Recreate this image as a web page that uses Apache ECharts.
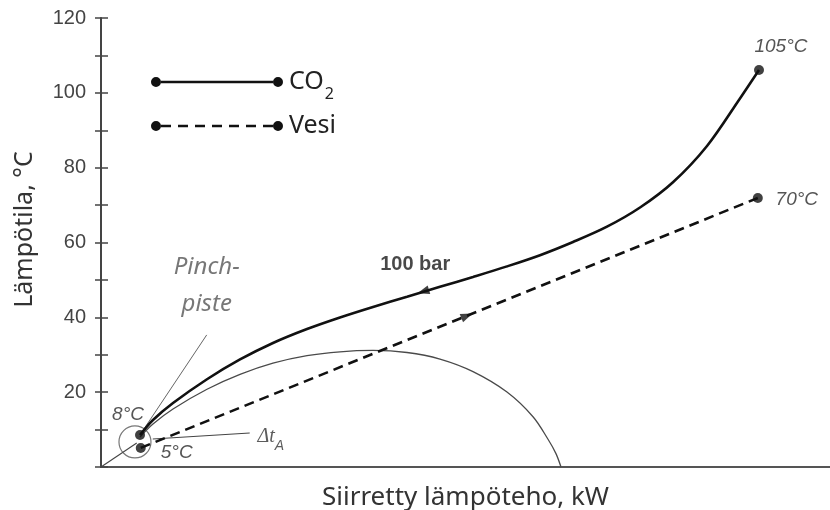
<!DOCTYPE html>
<html>
<head>
<meta charset="utf-8">
<script src="https://cdn.jsdelivr.net/npm/echarts@6/dist/echarts.min.js"></script>
<style>html,body{margin:0;padding:0;background:#fff}#c{width:830px;height:510px}</style>
</head>
<body>
<div id="c"></div>
<script>
// ---- data ----
const co2X = [5.35, 7.13, 9.88, 14.54, 19.07, 23.59, 28.26, 32.78, 37.31, 41.98, 46.5, 51.03, 55.69, 60.22, 64.75, 69.41, 73.94, 78.46, 83.13, 87.65, 90.26];
const co2T = [8.55, 12.55, 17.09, 23.45, 28.74, 33.15, 36.88, 39.97, 42.78, 45.51, 48.16, 50.8, 53.62, 56.61, 60.14, 64.23, 69.35, 76.1, 85.8, 98.5, 106.1];
const vesiX = [5.45, 90.1];
const vesiT = [5.1, 71.9];
const arcX = [5.35, 7.13, 9.88, 14.54, 19.07, 23.59, 28.26, 32.78, 37.31, 41.98, 46.5, 51.03, 55.69, 59.26, 61.32, 62.41, 63.1];
const arcT = [8.02, 11.49, 15.5, 20.77, 24.74, 27.74, 29.74, 30.79, 31.15, 30.6, 28.84, 25.49, 20.03, 13.43, 7.42, 3.58, 0];
const originLine = [[0, 0], [4.9, 6.4]];
const pinchLine = [[5.8, 9.9], [14.5, 35.3]];
const dtLine = [[7.1, 7.5], [20.4, 9.1]];
const pinchCircle = [4.66, 6.7];
const co2Arrow = [44.2, 46.9];
const vesiArrow = [50.2, 40.4];
const endLabels = ['8°C', '105°C', '5°C', '70°C'];
const seriesNames = ['CO₂', 'Vesi'];
const pinchText = 'Pinch-\npiste';
const pressureText = '100 bar';
const yTicks = [0, 20, 40, 60, 80, 100, 120];

const zip = (xs, ys) => xs.map((x, i) => [x, ys[i]]);
const co2Data = zip(co2X, co2T);
const vesiData = zip(vesiX, vesiT);
const arcData = zip(arcX, arcT);

const ital = {fontFamily: 'Liberation Sans', fontStyle: 'italic', fontSize: 19, color: '#2a2a2a'};
function endPoint(pt, text, off) {
  return {value: pt, label: Object.assign({show: true, position: 'inside', offset: off, formatter: text}, ital)};
}

const co2Icon = 'path://M0,5a5,5 0 1,0 10,0a5,5 0 1,0 -10,0Z M122,5a5,5 0 1,0 10,0a5,5 0 1,0 -10,0Z M10,3.8L122,3.8L122,6.2L10,6.2Z';
let dashes = '';
for (let s = 10; s < 122; s += 17) { const e = Math.min(s + 10, 122); dashes += ' M' + s + ',3.8L' + e + ',3.8L' + e + ',6.2L' + s + ',6.2Z'; }
const vesiIcon = 'path://M0,5a5,5 0 1,0 10,0a5,5 0 1,0 -10,0Z M122,5a5,5 0 1,0 10,0a5,5 0 1,0 -10,0Z' + dashes;

const chart = echarts.init(document.getElementById('c'), null, {renderer: 'canvas'});
chart.setOption({
  animation: false,
  backgroundColor: '#fff',
  grid: {left: 101, right: 0, top: 18, bottom: 43, containLabel: false, outerBoundsMode: 'none'},
  legend: {
    orient: 'vertical', left: 146, top: 63, itemGap: 10,
    itemWidth: 132, itemHeight: 10, selectedMode: false,
    itemStyle: {color: '#111', borderWidth: 0},
    data: [{name: seriesNames[0], icon: co2Icon}, {name: seriesNames[1], icon: vesiIcon}],
    formatter: n => n === seriesNames[0] ? '{m|CO}{s|2}' : '{m|' + n + '}',
    textStyle: {
      padding: [0, 0, 0, 1], lineHeight: 28,
      rich: {
        m: {fontFamily: 'Noto Sans', fontSize: 25, color: '#222', lineHeight: 28},
        s: {fontFamily: 'Noto Sans', fontSize: 16, color: '#222', verticalAlign: 'bottom', lineHeight: 28, padding: [0, 0, -6, 1]}
      }
    }
  },
  xAxis: [{
    type: 'value', min: 0, max: 100, position: 'bottom',
    name: 'Siirretty lämpöteho, kW', nameLocation: 'middle', nameGap: 18,
    nameTextStyle: {fontFamily: 'Noto Sans', fontSize: 26, color: '#333'},
    axisLine: {show: true, lineStyle: {color: '#444', width: 2}},
    axisTick: {show: false}, axisLabel: {show: false}, splitLine: {show: false}
  }, {
    type: 'value', min: 0, max: 100, position: 'top',
    axisLine: {show: true, lineStyle: {color: '#555', width: 2}},
    axisTick: {show: false}, axisLabel: {show: false}, splitLine: {show: false}
  }],
  yAxis: [{
    type: 'value', min: 0, max: 120, interval: 10, position: 'left',
    name: 'Lämpötila, °C', nameLocation: 'middle', nameGap: 64,
    nameTextStyle: {fontFamily: 'Noto Sans', fontSize: 25, color: '#333', padding: [0, 0, 0, 26]},
    axisLine: {show: true, lineStyle: {color: '#444', width: 2}},
    axisTick: {show: true, length: 6, lineStyle: {color: '#444', width: 1.5}},
    axisLabel: {
      margin: 15, fontFamily: 'Liberation Sans', fontSize: 20, color: '#444',
      formatter: v => (v > 0 && yTicks.indexOf(v) >= 0) ? String(v) : ''
    },
    splitLine: {show: false}
  }, {
    type: 'value', min: 0, max: 120, interval: 10, position: 'left',
    axisLine: {show: false},
    axisTick: {show: true, inside: true, length: 7, lineStyle: {color: '#444', width: 1.5}},
    axisLabel: {show: false}, splitLine: {show: false}
  }],
  series: [
    {name: 'arc', type: 'line', data: arcData, smooth: 0.33, symbol: 'none',
     lineStyle: {color: '#4a4a4a', width: 1.3}, z: 2},
    {name: 'origin', type: 'line', data: originLine, symbol: 'none',
     lineStyle: {color: '#444', width: 1.1}, z: 2},
    {name: 'pinch', type: 'line', data: pinchLine, symbol: 'none',
     lineStyle: {color: '#666', width: 1}, z: 2},
    {name: 'dt', type: 'line', data: dtLine, symbol: 'none',
     lineStyle: {color: '#444', width: 1.1}, z: 2},
    {name: seriesNames[0], type: 'line', data: co2Data, smooth: 0.33, symbol: 'none',
     itemStyle: {color: '#111'}, lineStyle: {color: '#111', width: 2.6}, z: 4},
    {name: seriesNames[1], type: 'line', data: vesiData, symbol: 'none',
     itemStyle: {color: '#111'}, lineStyle: {color: '#111', width: 2.6, type: [10, 6]}, z: 4},
    {name: 'circle', type: 'scatter', data: [pinchCircle], symbol: 'circle', symbolSize: 32,
     itemStyle: {color: 'rgba(0,0,0,0)', borderColor: '#555', borderWidth: 1.2}, z: 3},
    {name: 'ends', type: 'scatter', symbol: 'circle', symbolSize: 10,
     itemStyle: {color: '#111'}, z: 5,
     data: [
       endPoint(co2Data[0], endLabels[0], [-12, -20]),
       endPoint(co2Data[co2Data.length - 1], endLabels[1], [22, -23]),
       endPoint(vesiData[0], endLabels[2], [36, 5]),
       endPoint(vesiData[vesiData.length - 1], endLabels[3], [39, 2])
     ]},
    {name: 'arrows', type: 'scatter', symbol: 'triangle', symbolSize: [9, 12],
     itemStyle: {color: '#111'}, z: 5,
     data: [
       {value: co2Arrow, symbolRotate: 107,
        label: {show: true, position: 'inside', offset: [-8, -27], formatter: pressureText,
                fontFamily: 'Liberation Sans', fontWeight: 'bold', fontSize: 20, color: '#1a1a1a'}},
       {value: vesiArrow, symbolRotate: -68}
     ]},
    {name: 'notes', type: 'scatter', symbol: 'circle', symbolSize: 2,
     itemStyle: {color: 'rgba(0,0,0,0)'}, z: 5,
     data: [
       {value: pinchLine[1], label: {show: true, position: 'inside', offset: [0, -49], formatter: pinchText,
        fontFamily: 'Noto Sans', fontStyle: 'italic', fontSize: 24, lineHeight: 37, color: '#555', align: 'center'}},
       {value: dtLine[1], label: {show: true, position: 'inside', offset: [21, 4],
        formatter: '{d|Δt}{s|A}',
        rich: {d: {fontFamily: 'Liberation Serif', fontStyle: 'italic', fontSize: 20, color: '#333'},
               s: {fontFamily: 'Liberation Sans', fontStyle: 'italic', fontSize: 14, color: '#333', verticalAlign: 'bottom', padding: [0, 0, -6, 0]}}}}
     ]}
  ]
});
</script>
</body>
</html>
